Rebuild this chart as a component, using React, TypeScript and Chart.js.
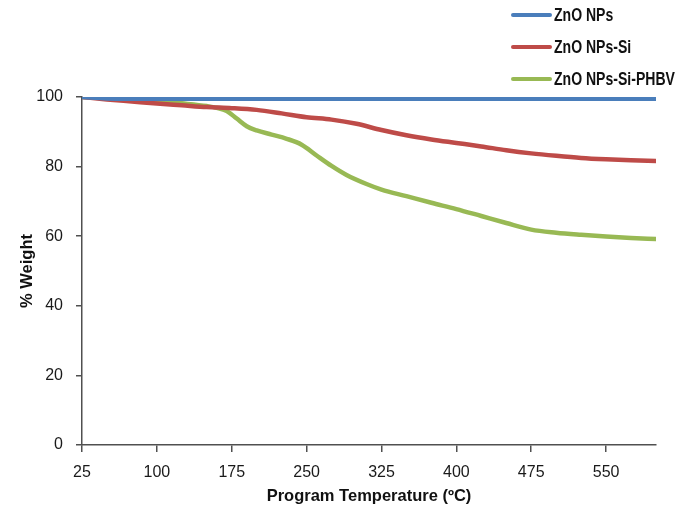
import React, { useEffect, useRef } from "react";
import { Chart, registerables } from "chart.js";

Chart.register(...registerables);

// ---- data ----
const temperatureTicks = [25, 100, 175, 250, 325, 400, 475, 550];
const weightTicks = [0, 20, 40, 60, 80, 100];

const seriesNames = ["ZnO NPs", "ZnO NPs-Si", "ZnO NPs-Si-PHBV"];
const seriesColors = ["#4A7EBB", "#BE4B48", "#98B954"];

const znoTemps = [25, 50, 100, 200, 300, 400, 500, 600];
const znoValues = [100, 99.6, 99.5, 99.5, 99.5, 99.5, 99.5, 99.5];

const znoSiTemps = [25, 50, 75, 100, 125, 150, 175, 200, 225, 250, 275, 300, 325, 350, 375, 400, 425, 450, 475, 500, 525, 550, 575, 600];
const znoSiValues = [100, 99.3, 98.7, 98.1, 97.6, 97.1, 96.8, 96.3, 95.3, 94.2, 93.5, 92.3, 90.5, 89.0, 87.8, 86.8, 85.8, 84.7, 83.8, 83.1, 82.5, 82.1, 81.8, 81.6];

const phbvTemps = [25, 50, 75, 100, 125, 150, 160, 170, 180, 190, 200, 215, 230, 245, 260, 275, 290, 310, 325, 350, 375, 400, 425, 450, 475, 500, 525, 550, 575, 600];
const phbvValues = [100, 99.8, 99.4, 98.9, 98.2, 97.4, 96.9, 96.0, 93.8, 91.6, 90.4, 89.2, 88.0, 86.3, 83.2, 80.2, 77.6, 75.0, 73.4, 71.5, 69.6, 67.8, 65.8, 63.8, 61.9, 61.0, 60.4, 59.9, 59.5, 59.2];

const xTitle = "Program Temperature (ºC)";
const yTitle = "% Weight";

const seriesTemps = [znoTemps, znoSiTemps, phbvTemps];
const seriesValues = [znoValues, znoSiValues, phbvValues];

const AXIS = "#505050";
const FONT = '"Liberation Sans", Arial, sans-serif';

export default function App() {
  const canvasRef = useRef<HTMLCanvasElement | null>(null);

  useEffect(() => {
    const canvas = canvasRef.current;
    if (!canvas) return;
    const datasets = seriesNames.map((name, i) => ({
      label: name,
      data: seriesTemps[i].map((t, j) => ({ x: t, y: seriesValues[i][j] })),
      borderColor: seriesColors[i],
      backgroundColor: seriesColors[i],
      borderWidth: 4.5,
      borderCapStyle: "round" as const,
      pointRadius: 0,
      tension: 0.4,
      cubicInterpolationMode: "monotone" as const,
      fill: false,
    }));

    const chart = new Chart(canvas, {
      type: "line",
      data: { datasets },
      options: {
        animation: false,
        responsive: false,
        maintainAspectRatio: false,
        layout: { padding: { left: 0, right: 35, top: 97, bottom: 0 } },
        plugins: {
          legend: { display: false },
          tooltip: { enabled: false },
        },
        scales: {
          x: {
            type: "linear",
            min: 25,
            max: 600,
            afterBuildTicks: (axis: any) => {
              axis.ticks = temperatureTicks.map((v) => ({ value: v }));
            },
            afterFit: (scale: any) => {
              scale.height = 79;
            },
            grid: {
              display: true,
              drawOnChartArea: false,
              drawTicks: true,
              tickLength: 7,
              color: AXIS,
              lineWidth: 1.5,
            },
            border: { display: true, color: AXIS, width: 1.5 },
            ticks: {
              autoSkip: false,
              maxRotation: 0,
              padding: 11,
              color: "#1a1a1a",
              font: { family: FONT, size: 16 },
            },
            title: {
              display: true,
              text: xTitle,
              color: "#111",
              font: { family: FONT, size: 16.5, weight: "bold" },
              padding: { top: 0, bottom: 18 },
            },
          },
          y: {
            type: "linear",
            min: 0,
            max: 100,
            afterBuildTicks: (axis: any) => {
              axis.ticks = weightTicks.map((v) => ({ value: v }));
            },
            afterFit: (scale: any) => {
              scale.width = 82;
            },
            grid: {
              display: true,
              drawOnChartArea: false,
              drawTicks: true,
              tickLength: 6,
              color: AXIS,
              lineWidth: 1.5,
            },
            border: { display: true, color: AXIS, width: 1.5 },
            ticks: {
              padding: 13,
              color: "#1a1a1a",
              font: { family: FONT, size: 16 },
            },
            title: {
              display: true,
              text: yTitle,
              color: "#111",
              font: { family: FONT, size: 16.5, weight: "bold" },
              padding: { top: 18, bottom: 0 },
            },
          },
        },
      },
    });
    return () => chart.destroy();
  }, []);

  return (
    <div style={{ position: "absolute", left: 0, top: 0, width: 691, height: 524, background: "#fff" }}>
      <canvas ref={canvasRef} width={691} height={524} style={{ display: "block", width: 691, height: 524 }} />
      <div style={{ position: "absolute", left: 511, top: 0 }}>
        {seriesNames.map((name, i) => (
          <div
            key={name}
            style={{ position: "absolute", left: 0, top: 4 + i * 32, height: 22, display: "flex", alignItems: "center", whiteSpace: "nowrap" }}
          >
            <div style={{ width: 41, height: 4, borderRadius: 2, background: seriesColors[i] }} />
            <span
              style={{
                display: "inline-block",
                marginLeft: 2,
                fontFamily: FONT,
                fontWeight: "bold",
                fontSize: 18,
                color: "#111",
                transform: "scaleX(0.78)",
                transformOrigin: "left center",
              }}
            >
              {name}
            </span>
          </div>
        ))}
      </div>
    </div>
  );
}
